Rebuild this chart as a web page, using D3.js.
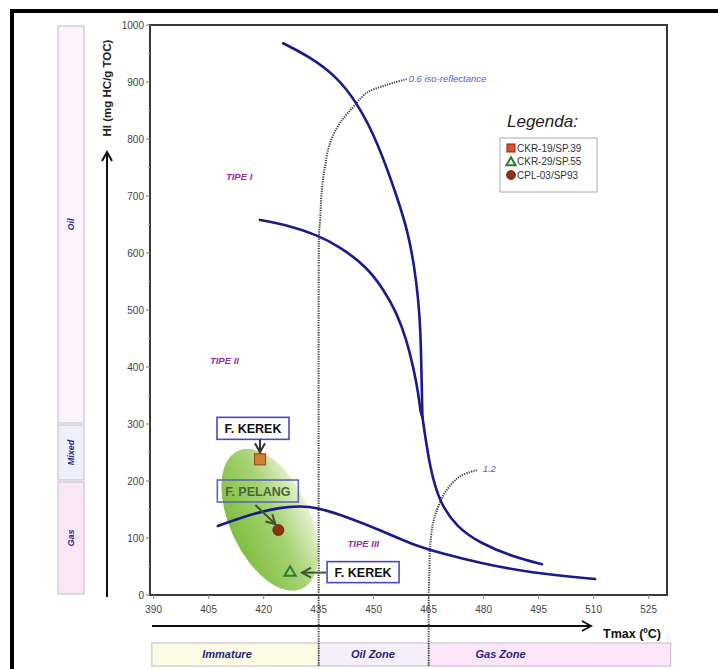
<!DOCTYPE html>
<html>
<head>
<meta charset="utf-8">
<script src="https://cdn.jsdelivr.net/npm/d3@7"></script>
<style>
  body { margin: 0; background: #fff; }
  svg { display: block; font-family: Arial, "Liberation Sans", sans-serif; }
</style>
</head>
<body>
<div id="chart"></div>
<script>
(function () {

var W = 718, H = 669

// plot box
var plot = { left: 150, top: 25, right: 667, bottom: 595 }

// axis ticks
var xTicks = [390, 405, 420, 435, 450, 465, 480, 495, 510, 525]
var yTicks = [0, 100, 200, 300, 400, 500, 600, 700, 800, 900, 1000]
var yMinor = [50, 150, 250, 350, 450, 550, 650, 750, 850, 950]

// kerogen type curves [Tmax, HI]
var tipeI = [[425.3, 968], [432.6, 944], [440.0, 909], [445.5, 863], [450.9, 798], [456.7, 693],
  [459.4, 635], [461.1, 576], [462.2, 518], [462.8, 460], [463.0, 400], [463.3, 312]]
var tipeII = [[419.0, 658], [426.3, 649], [434.5, 632], [440.8, 611], [448.1, 576], [452.8, 535],
  [456.3, 495], [459.0, 447], [460.8, 400], [462.2, 354], [462.8, 319], [463.3, 312]]
var tipeLower = [[463.3, 312], [465.4, 219], [468.1, 161], [472.7, 119], [479.0, 91], [488.0, 67], [495.9, 54]]
var tipeIII = [[407.5, 121], [415.5, 140], [424.5, 154], [429.9, 156], [434.5, 154], [442.7, 137],
  [451.7, 114], [460.7, 88], [468.1, 74], [479.0, 56], [492.6, 39], [510.4, 28]]

// iso-reflectance lines
var iso06 = [[459.0, 905], [453.6, 895], [448.1, 881], [444.4, 856], [440.8, 828], [438.1, 793],
  [436.7, 751], [435.8, 705], [435.4, 658], [435.1, 635], [435, 547], [435, 0]]
var iso12 = [[478.1, 219], [473.5, 208], [469.9, 184], [467.6, 155], [466.2, 126], [465.4, 85],
  [465.2, 44], [465, 0]]

var tipeLabels = [
  { text: 'TIPE I', tmax: 413.3, hi: 735 },
  { text: 'TIPE II', tmax: 409.3, hi: 411 },
  { text: 'TIPE III', tmax: 447.2, hi: 91 }
]

// samples
var sampleNames = ['CKR-19/SP.39', 'CKR-29/SP.55', 'CPL-03/SP93']
var sampleShapes = ['square', 'triangle', 'circle']
var sampleTmax = [419.0, 427.2, 424.0]
var sampleHI = [238, 41, 114]

// zones
var hiZoneNames = ['Oil', 'Mixed', 'Gas']
var hiZoneFrom = [300, 200, 0]
var hiZoneTo = [1000, 300, 200]
var hiZoneFill = ['#fbf2fa', '#eef0fb', '#fbe6f8']

var tmaxZoneNames = ['Immature', 'Oil Zone', 'Gas Zone']
var tmaxZoneFrom = [389.5, 435, 465]
var tmaxZoneTo = [435, 465, 531]
var tmaxZoneFill = ['#fdfde6', '#f6eef9', '#fde6fb']
var tmaxZoneLabelAt = [410, 449.8, 484.6]

var svg = d3.select('#chart').append('svg')
    .attr('width', W)
    .attr('height', H)

var xScale = d3.scaleLinear()
    .domain([389, 530])
    .range([plot.left, plot.right])

var yScale = d3.scaleLinear()
    .domain([0, 1000])
    .range([plot.bottom, plot.top])

var defs = svg.append('defs')

var grad = defs.append('linearGradient')
    .attr('id', 'greenfill')
    .attr('x1', '0%').attr('x2', '100%')
    .attr('y1', '0%').attr('y2', '0%')
grad.append('stop').attr('offset', '0%').attr('stop-color', '#7fbf42')
grad.append('stop').attr('offset', '55%').attr('stop-color', '#a6d273')
grad.append('stop').attr('offset', '100%').attr('stop-color', '#e6f2d3')

function addArrow(id, color) {
  defs.append('marker')
    .attr('id', id)
    .attr('markerUnits', 'userSpaceOnUse')
    .attr('markerWidth', 14)
    .attr('markerHeight', 14)
    .attr('viewBox', '0 0 14 14')
    .attr('refX', 12)
    .attr('refY', 7)
    .attr('orient', 'auto')
    .append('path')
    .attr('d', 'M3,2 L12,7 L3,12')
    .attr('fill', 'none')
    .attr('stroke', color)
    .attr('stroke-width', 2)
}
addArrow('arrowBlack', '#111')
addArrow('arrowDark', '#333')
addArrow('arrowOlive', '#3f5530')

// outer frame
svg.append('rect')
    .attr('x', 12).attr('y', 11)
    .attr('width', 740).attr('height', 700)
    .attr('fill', 'none')
    .attr('stroke', '#000')
    .attr('stroke-width', 4)

// HI zone column
var colX = 58, colW = 26
hiZoneNames.forEach(function (name, i) {
  var y0 = yScale(hiZoneTo[i]), y1 = yScale(hiZoneFrom[i])
  svg.append('rect')
    .attr('x', colX).attr('y', y0 + 1)
    .attr('width', colW).attr('height', y1 - y0 - 2)
    .attr('fill', hiZoneFill[i])
    .attr('stroke', '#c9c6d2')
    .attr('stroke-width', 1.2)
  svg.append('text')
    .text(name)
    .attr('transform', 'translate(' + (colX + colW / 2 + 3) + ',' + ((y0 + y1) / 2) + ') rotate(-90)')
    .attr('text-anchor', 'middle')
    .attr('font-size', 9)
    .attr('font-weight', 'bold')
    .attr('font-style', 'italic')
    .attr('fill', '#2b2a8c')
})

// y arrow + label
svg.append('line')
    .attr('x1', 107).attr('x2', 107)
    .attr('y1', plot.bottom + 2).attr('y2', 152)
    .attr('stroke', '#111')
    .attr('stroke-width', 2)
    .attr('marker-end', 'url(#arrowBlack)')

svg.append('text')
    .text('HI (mg HC/g TOC)')
    .attr('transform', 'translate(111,88) rotate(-90)')
    .attr('text-anchor', 'middle')
    .attr('font-size', 11.5)
    .attr('font-weight', 'bold')
    .attr('fill', '#222')

// green ellipse
var ecx = xScale(421.7), ecy = yScale(132)
svg.append('ellipse')
    .attr('cx', 0).attr('cy', 0)
    .attr('rx', 40).attr('ry', 76)
    .attr('transform', 'translate(' + ecx + ',' + ecy + ') rotate(-25)')
    .attr('fill', 'url(#greenfill)')

// plot frame
svg.append('rect')
    .attr('x', plot.left).attr('y', plot.top)
    .attr('width', plot.right - plot.left).attr('height', plot.bottom - plot.top)
    .attr('fill', 'none')
    .attr('stroke', '#3a3a3a')
    .attr('stroke-width', 2)

// y axis ticks
svg.selectAll('.ymajor')
    .data(yTicks)
    .enter().append('line')
    .attr('x1', plot.left - 4).attr('x2', plot.left)
    .attr('y1', function (d) { return yScale(d) })
    .attr('y2', function (d) { return yScale(d) })
    .attr('stroke', '#777')
svg.selectAll('.yminor')
    .data(yMinor)
    .enter().append('line')
    .attr('x1', plot.left - 2).attr('x2', plot.left)
    .attr('y1', function (d) { return yScale(d) })
    .attr('y2', function (d) { return yScale(d) })
    .attr('stroke', '#aaa')
svg.selectAll('.ylab')
    .data(yTicks)
    .enter().append('text')
    .text(function (d) { return d })
    .attr('x', plot.left - 6)
    .attr('y', function (d) { return yScale(d) + 3.5 })
    .attr('text-anchor', 'end')
    .attr('font-size', 10)
    .attr('fill', '#444')

// x axis ticks
svg.selectAll('.xmajor')
    .data(xTicks)
    .enter().append('line')
    .attr('x1', function (d) { return xScale(d) })
    .attr('x2', function (d) { return xScale(d) })
    .attr('y1', plot.bottom).attr('y2', plot.bottom + 4)
    .attr('stroke', '#888')
svg.selectAll('.xlab')
    .data(xTicks)
    .enter().append('text')
    .text(function (d) { return d })
    .attr('x', function (d) { return xScale(d) })
    .attr('y', plot.bottom + 18)
    .attr('text-anchor', 'middle')
    .attr('font-size', 10)
    .attr('fill', '#444')

// x arrow + label
svg.append('line')
    .attr('x1', 152).attr('x2', 591)
    .attr('y1', 626).attr('y2', 626)
    .attr('stroke', '#111')
    .attr('stroke-width', 2)
    .attr('marker-end', 'url(#arrowBlack)')

var tl = svg.append('text')
    .attr('x', 603).attr('y', 638)
    .attr('font-size', 12.5)
    .attr('font-weight', 'bold')
    .attr('fill', '#111')
tl.append('tspan').text('Tmax (')
tl.append('tspan').text('0').attr('font-size', 8).attr('dy', -5)
tl.append('tspan').text('C)').attr('dy', 5)

// Tmax zone bar
tmaxZoneNames.forEach(function (name, i) {
  var x0 = xScale(tmaxZoneFrom[i]), x1 = xScale(tmaxZoneTo[i])
  svg.append('rect')
    .attr('x', x0).attr('y', 643)
    .attr('width', x1 - x0).attr('height', 23)
    .attr('fill', tmaxZoneFill[i])
    .attr('stroke', '#cbc4d4')
    .attr('stroke-width', 1.2)
  svg.append('text')
    .text(name)
    .attr('x', xScale(tmaxZoneLabelAt[i]))
    .attr('y', 658)
    .attr('text-anchor', 'middle')
    .attr('font-size', 11)
    .attr('font-weight', 'bold')
    .attr('font-style', 'italic')
    .attr('fill', '#26267a')
})

var line = d3.line()
    .x(function (d) { return xScale(d[0]) })
    .y(function (d) { return yScale(d[1]) })
    .curve(d3.curveCatmullRom.alpha(0.5))

var smooth = d3.line()
    .x(function (d) { return xScale(d[0]) })
    .y(function (d) { return yScale(d[1]) })
    .curve(d3.curveBasis)

// iso-reflectance dotted lines
;[iso06, iso12].forEach(function (pts) {
  svg.append('path')
    .attr('d', line(pts))
    .attr('fill', 'none')
    .attr('stroke', '#3c3c3c')
    .attr('stroke-width', 2)
    .attr('stroke-dasharray', '1.2,1.2')
})
// extend vertical parts down through the zone bar
;[435, 465].forEach(function (t) {
  svg.append('line')
    .attr('x1', xScale(t)).attr('x2', xScale(t))
    .attr('y1', plot.bottom).attr('y2', 666)
    .attr('stroke', '#3c3c3c')
    .attr('stroke-width', 2)
    .attr('stroke-dasharray', '1.2,1.2')
})

svg.append('text')
    .text('0.6 iso-reflectance')
    .attr('x', xScale(iso06[0][0]) + 2)
    .attr('y', yScale(iso06[0][1]) + 3)
    .attr('font-size', 9.5)
    .attr('font-style', 'italic')
    .attr('fill', '#5b5bd0')
svg.append('text')
    .text('1.2')
    .attr('x', xScale(iso12[0][0]) + 6)
    .attr('y', yScale(iso12[0][1]) + 2)
    .attr('font-size', 9.5)
    .attr('font-style', 'italic')
    .attr('fill', '#5b5bd0')

// kerogen curves
;[tipeI, tipeII, tipeLower, tipeIII].forEach(function (pts) {
  svg.append('path')
    .attr('d', smooth(pts))
    .attr('fill', 'none')
    .attr('stroke', '#1c1a8a')
    .attr('stroke-width', 2.6)
    .attr('stroke-linecap', 'round')
})

svg.selectAll('.tipe')
    .data(tipeLabels)
    .enter().append('text')
    .text(function (d) { return d.text })
    .attr('x', function (d) { return xScale(d.tmax) })
    .attr('y', function (d) { return yScale(d.hi) + 3.5 })
    .attr('text-anchor', 'middle')
    .attr('font-size', 9.5)
    .attr('font-weight', 'bold')
    .attr('font-style', 'italic')
    .attr('fill', '#9b2d9b')

// sample symbols
function drawSymbol(g, shape, x, y, s) {
  if (shape === 'square') {
    g.append('rect')
      .attr('x', x - s / 2).attr('y', y - s / 2)
      .attr('width', s).attr('height', s)
      .attr('fill', '#d0802c')
      .attr('stroke', '#a0521a')
      .attr('stroke-width', 1.2)
  } else if (shape === 'circle') {
    g.append('circle')
      .attr('cx', x).attr('cy', y)
      .attr('r', s / 2)
      .attr('fill', '#8a3412')
      .attr('stroke', '#5e200a')
      .attr('stroke-width', 0.8)
  } else {
    g.append('path')
      .attr('d', d3.symbol().type(d3.symbolTriangle).size(s * s * 0.45)())
      .attr('transform', 'translate(' + x + ',' + (y + 1) + ')')
      .attr('fill', 'none')
      .attr('stroke', '#2e7d2e')
      .attr('stroke-width', 2)
  }
}

var pts = svg.append('g')
sampleNames.forEach(function (n, i) {
  drawSymbol(pts, sampleShapes[i], xScale(sampleTmax[i]), yScale(sampleHI[i]), 11)
})

// annotation boxes
function labelBox(x, y, w, h, txt, txtColor, stroke, fill) {
  svg.append('rect')
    .attr('x', x).attr('y', y)
    .attr('width', w).attr('height', h)
    .attr('fill', fill)
    .attr('stroke', stroke)
    .attr('stroke-width', 1.6)
  svg.append('text')
    .text(txt)
    .attr('x', x + w / 2)
    .attr('y', y + h / 2 + 4.5)
    .attr('text-anchor', 'middle')
    .attr('font-size', 12.5)
    .attr('font-weight', 'bold')
    .attr('fill', txtColor)
}

var sqX = xScale(sampleTmax[0]), sqY = yScale(sampleHI[0])
var ciX = xScale(sampleTmax[2]), ciY = yScale(sampleHI[2])
var trX = xScale(sampleTmax[1]), trY = yScale(sampleHI[1])

labelBox(sqX - 43, sqY - 42, 72, 22, 'F. KEREK', '#111', '#4a48c4', '#fff')
svg.append('line')
    .attr('x1', sqX).attr('x2', sqX)
    .attr('y1', sqY - 20).attr('y2', sqY - 7)
    .attr('stroke', '#333').attr('stroke-width', 2)
    .attr('marker-end', 'url(#arrowDark)')

labelBox(ciX - 61, ciY - 50, 81, 22, 'F. PELANG', '#4a6636', '#5d69ac', 'none')
svg.append('line')
    .attr('x1', ciX - 23).attr('x2', ciX - 3)
    .attr('y1', ciY - 25).attr('y2', ciY - 6)
    .attr('stroke', '#3f5530').attr('stroke-width', 2)
    .attr('marker-end', 'url(#arrowOlive)')

labelBox(trX + 37, trY - 10, 72, 21, 'F. KEREK', '#111', '#4a48c4', '#fff')
svg.append('line')
    .attr('x1', trX + 36).attr('x2', trX + 12)
    .attr('y1', trY + 1).attr('y2', trY + 1)
    .attr('stroke', '#3f5530').attr('stroke-width', 2)
    .attr('marker-end', 'url(#arrowOlive)')

// legend
svg.append('text')
    .text('Legenda:')
    .attr('x', 507).attr('y', 127)
    .attr('font-size', 17)
    .attr('font-style', 'italic')
    .attr('fill', '#222')

svg.append('rect')
    .attr('x', 500).attr('y', 138)
    .attr('width', 97).attr('height', 54)
    .attr('fill', '#fff')
    .attr('stroke', '#aaa')
    .attr('stroke-width', 1)

var leg = svg.append('g')
sampleNames.forEach(function (n, i) {
  var ly = 148 + i * 13.5
  var shape = sampleShapes[i]
  if (shape === 'square') {
    leg.append('rect')
      .attr('x', 507).attr('y', ly - 4)
      .attr('width', 8).attr('height', 8)
      .attr('fill', '#e2522a')
      .attr('stroke', '#8c2410')
  } else {
    drawSymbol(leg, shape, 511, ly, 9)
  }
  leg.append('text')
    .text(n)
    .attr('x', 517)
    .attr('y', ly + 3.5)
    .attr('font-size', 10)
    .attr('fill', '#333')
})

})()
</script>
</body>
</html>
